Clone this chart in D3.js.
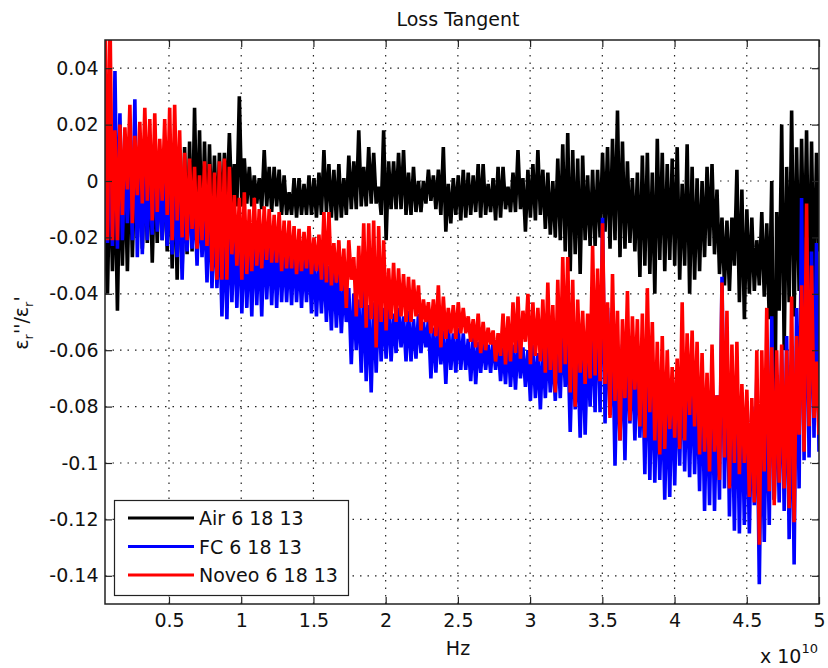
<!DOCTYPE html>
<html>
<head>
<meta charset="utf-8">
<script src="https://cdn.jsdelivr.net/npm/d3@7"></script>
<style>
  body { margin: 0; background: #fff; }
  text { font-family: "DejaVu Sans", sans-serif; fill: #111; }
</style>
</head>
<body>
<div id="chart"></div>
<script>
// sweep: evenly spaced frequency points, each series alternates a high / low reading
const fStart = 0.057e10, fEnd = 5e10;

const air = [
  -0.010,-0.040, 0.008,-0.032, 0.005,-0.046, 0.008,-0.030, 0.006,-0.032, 0.010,-0.027, 0.004,-0.020, 0.009,-0.024, 0.006,-0.022, 0.008,-0.029,
  0.005,-0.022, 0.010,-0.021, 0.007,-0.025, 0.009,-0.031, 0.006,-0.035, 0.011,-0.031, 0.012,-0.026, 0.014,-0.025, 0.026,-0.021, 0.018,-0.024,
  0.014,-0.023, 0.013,-0.019, 0.009,-0.020, 0.010,-0.016, 0.010,-0.009, 0.017,-0.010, 0.006,-0.009, 0.030,-0.009, 0.008,-0.008, 0.005,-0.009,
  0.002,-0.008, 0.001,-0.010, 0.011,-0.009, 0.005,-0.011, 0.005,-0.009, 0.004,-0.012, 0.002,-0.012, -0.004,-0.012, 0.001,-0.013, 0.001,-0.012,
  -0.001,-0.012, 0.002,-0.012, 0.001,-0.013, 0.003,-0.012, 0.011,-0.011, 0.006,-0.013, 0.004,-0.014, 0.006,-0.013, 0.001,-0.012, 0.009,-0.010,
  0.007,-0.010, 0.018,-0.009, 0.005,-0.009, 0.012,-0.008, 0.010,-0.008, -0.002,-0.012, 0.018,-0.021, 0.007,-0.010, 0.007,-0.010, 0.010,-0.010,
  0.011,-0.012, 0.003,-0.012, 0.005,-0.011, 0.000,-0.011, 0.000,-0.008, 0.004,-0.007, 0.002,-0.010, 0.004,-0.012, 0.012,-0.018, -0.001,-0.015,
  0.001,-0.012, 0.002,-0.014, 0.004,-0.013, 0.003,-0.012, 0.002,-0.011, 0.006,-0.013, 0.006,-0.012, -0.001,-0.011, 0.001,-0.014, 0.005,-0.013,
  0.005,-0.010, -0.002,-0.011, 0.003,-0.011, 0.011,-0.010, 0.001,-0.018, 0.004,-0.013, 0.006,-0.014, 0.011,-0.012, 0.004,-0.017, 0.003,-0.019,
  0.000,-0.020, 0.008,-0.021, 0.013,-0.025, 0.017,-0.032, 0.011,-0.026, 0.008,-0.033, 0.009,-0.021, 0.002,-0.023, 0.004,-0.023, 0.004,-0.020,
  0.010,-0.018, 0.012,-0.024, 0.015,-0.021, 0.025,-0.027, 0.014,-0.024, 0.007,-0.022, 0.001,-0.025, 0.003,-0.034, 0.009,-0.030, 0.010,-0.033,
  0.003,-0.040, 0.015,-0.028, 0.010,-0.032, 0.006,-0.028, 0.008,-0.030, 0.012,-0.035, -0.001,-0.030, 0.013,-0.040, 0.005,-0.035, 0.001,-0.032,
  0.000,-0.027, 0.005,-0.023, 0.006,-0.026, -0.003,-0.033, -0.013,-0.037, -0.014,-0.039, -0.013,-0.030, 0.004,-0.043, -0.003,-0.049, -0.010,-0.040,
  -0.013,-0.039, -0.021,-0.037, -0.011,-0.041, -0.015,-0.049, 0.000,-0.113, -0.011,-0.046, 0.020,-0.060, 0.005,-0.043, 0.025,-0.048, 0.012,-0.039,
  0.015,-0.036, 0.018,-0.046, 0.014,-0.041, 0.010,-0.025
];

const fc = [
  0.022,-0.022, 0.010,-0.023, 0.039,-0.024, 0.024,-0.021, 0.008,-0.015, 0.012,-0.021, 0.029,-0.027, 0.010,-0.026, 0.007,-0.021, 0.004,-0.019,
  0.008,-0.018, 0.001,-0.021, 0.005,-0.023, 0.002,-0.026, -0.001,-0.027, 0.003,-0.035, -0.003,-0.025, -0.001,-0.024, -0.005,-0.030, -0.004,-0.027,
  -0.008,-0.036, -0.006,-0.038, -0.010,-0.038, -0.012,-0.048, -0.015,-0.049, -0.013,-0.043, -0.017,-0.045, -0.014,-0.047, -0.018,-0.045, -0.019,-0.048,
  -0.017,-0.044, -0.020,-0.048, -0.018,-0.042, -0.021,-0.044, -0.022,-0.045, -0.020,-0.043, -0.023,-0.043, -0.024,-0.044, -0.023,-0.043, -0.025,-0.045,
  -0.026,-0.043, -0.024,-0.047, -0.027,-0.048, -0.028,-0.047, -0.027,-0.050, -0.030,-0.053, -0.029,-0.052, -0.032,-0.054, -0.036,-0.050, -0.038,-0.065,
  -0.040,-0.060, -0.042,-0.068, -0.038,-0.071, -0.044,-0.075, -0.043,-0.068, -0.041,-0.064, -0.045,-0.063, -0.044,-0.064, -0.047,-0.061, -0.045,-0.059,
  -0.048,-0.064, -0.046,-0.064, -0.049,-0.063, -0.047,-0.061, -0.050,-0.059, -0.049,-0.070, -0.052,-0.068, -0.050,-0.065, -0.053,-0.072, -0.051,-0.067,
  -0.054,-0.068, -0.052,-0.067, -0.054,-0.067, -0.056,-0.071, -0.055,-0.072, -0.057,-0.068, -0.056,-0.067, -0.058,-0.068, -0.056,-0.067, -0.057,-0.071,
  -0.059,-0.072, -0.055,-0.073, -0.058,-0.074, -0.056,-0.070, -0.059,-0.073, -0.060,-0.078, -0.058,-0.077, -0.061,-0.081, -0.059,-0.077, -0.057,-0.075,
  -0.060,-0.078, -0.056,-0.077, -0.052,-0.073, -0.055,-0.089, -0.058,-0.081, -0.060,-0.091, -0.056,-0.090, -0.058,-0.080, -0.050,-0.082, -0.040,-0.082,
  -0.013,-0.086, -0.045,-0.083, -0.052,-0.101, -0.060,-0.092, -0.058,-0.099, -0.055,-0.086, -0.062,-0.092, -0.060,-0.091, -0.064,-0.104, -0.058,-0.106,
  -0.066,-0.107, -0.070,-0.106, -0.072,-0.113, -0.074,-0.112, -0.070,-0.108, -0.068,-0.101, -0.062,-0.103, -0.070,-0.105, -0.066,-0.104, -0.072,-0.110,
  -0.068,-0.117, -0.074,-0.115, -0.070,-0.117, -0.076,-0.113, -0.034,-0.109, -0.060,-0.119, -0.072,-0.124, -0.068,-0.125, -0.075,-0.122, -0.078,-0.125,
  -0.080,-0.115, -0.070,-0.143, -0.076,-0.128, -0.072,-0.122, -0.048,-0.113, -0.070,-0.114, -0.060,-0.117, -0.055,-0.127, -0.064,-0.136, -0.045,-0.109,
  -0.006,-0.099, -0.020,-0.098, -0.025,-0.091, -0.022,-0.096
];

const noveo = [
  0.060,-0.021, 0.060,-0.021, 0.018,-0.021, 0.020,-0.012, 0.019,-0.003, 0.027,-0.015, 0.016,-0.005, 0.021,-0.008, 0.026,-0.007, 0.022,-0.014,
  0.024,-0.011, 0.015,-0.007, 0.022,-0.012, 0.026,-0.021, 0.027,-0.014, 0.018,-0.020, 0.010,-0.021, 0.008,-0.017, 0.005,-0.024, 0.002,-0.021,
  0.007,-0.023, 0.006,-0.032, 0.003,-0.035, 0.007,-0.035, 0.008,-0.035, 0.005,-0.026, -0.005,-0.030, -0.006,-0.035, -0.004,-0.033, -0.010,-0.032,
  -0.006,-0.030, -0.010,-0.031, -0.009,-0.028, -0.010,-0.029, -0.012,-0.029, -0.011,-0.032, -0.014,-0.031, -0.014,-0.031, -0.016,-0.033, -0.017,-0.032,
  -0.018,-0.031, -0.016,-0.033, -0.020,-0.032, -0.019,-0.035, -0.011,-0.036, -0.011,-0.037, -0.022,-0.036, -0.021,-0.039, -0.024,-0.045, -0.021,-0.035,
  -0.027,-0.048, -0.023,-0.045, -0.015,-0.052, -0.015,-0.049, -0.014,-0.059, -0.016,-0.050, -0.021,-0.053, -0.031,-0.049, -0.029,-0.050, -0.031,-0.048,
  -0.033,-0.050, -0.034,-0.050, -0.035,-0.048, -0.037,-0.053, -0.042,-0.050, -0.043,-0.054, -0.042,-0.055, -0.037,-0.059, -0.041,-0.056, -0.045,-0.054,
  -0.044,-0.056, -0.043,-0.054, -0.045,-0.054, -0.048,-0.057, -0.049,-0.059, -0.047,-0.061, -0.050,-0.060, -0.052,-0.058, -0.053,-0.064, -0.054,-0.062,
  -0.047,-0.065, -0.048,-0.064, -0.043,-0.061, -0.041,-0.063, -0.046,-0.057, -0.040,-0.065, -0.043,-0.062, -0.045,-0.064, -0.042,-0.068, -0.036,-0.067,
  -0.044,-0.075, -0.035,-0.068, -0.027,-0.065, -0.027,-0.075, -0.035,-0.080, -0.042,-0.068, -0.046,-0.072, -0.047,-0.070, -0.023,-0.069, -0.031,-0.071,
  -0.015,-0.072, -0.043,-0.084, -0.033,-0.078, -0.046,-0.092, -0.049,-0.077, -0.039,-0.085, -0.048,-0.074, -0.049,-0.087, -0.047,-0.091, -0.038,-0.082,
  -0.050,-0.092, -0.057,-0.097, -0.055,-0.095, -0.060,-0.088, -0.066,-0.091, -0.063,-0.095, -0.043,-0.092, -0.054,-0.083, -0.053,-0.087, -0.057,-0.097,
  -0.061,-0.096, -0.068,-0.103, -0.058,-0.096, -0.076,-0.106, -0.036,-0.098, -0.046,-0.109, -0.058,-0.100, -0.057,-0.104, -0.072,-0.100, -0.074,-0.112,
  -0.077,-0.114, -0.060,-0.129, -0.060,-0.103, -0.045,-0.110, -0.059,-0.115, -0.060,-0.107, -0.058,-0.109, -0.060,-0.116, -0.041,-0.121, -0.055,-0.090,
  -0.037,-0.096, -0.008,-0.087, -0.030,-0.084, -0.064,-0.090
];

const seriesNames = ["Air 6 18 13", "FC 6 18 13", "Noveo 6 18 13"];
const seriesColors = ["#000000", "#0000ff", "#ff0000"];
const xTicks = [0.5e10, 1e10, 1.5e10, 2e10, 2.5e10, 3e10, 3.5e10, 4e10, 4.5e10, 5e10];
const yTicks = [-0.14, -0.12, -0.1, -0.08, -0.06, -0.04, -0.02, 0, 0.02, 0.04];

const W = 828, H = 668;
const plot = { left: 105, top: 40, right: 819, bottom: 604 };

const freq = air.map((_, i) => fStart + i * (fEnd - fStart) / (air.length - 1));

const svg = d3.select("#chart").append("svg")
  .attr("width", W).attr("height", H);

svg.append("rect").attr("width", W).attr("height", H).attr("fill", "#fff");

const x = d3.scaleLinear().domain([fStart, fEnd]).range([plot.left, plot.right]);
const y = d3.scaleLinear().domain([-0.15, 0.05]).range([plot.bottom, plot.top]);

svg.append("clipPath").attr("id", "clip")
  .append("rect")
  .attr("x", plot.left).attr("y", plot.top)
  .attr("width", plot.right - plot.left).attr("height", plot.bottom - plot.top);

// dotted grid
const grid = svg.append("g").attr("stroke", "#222").attr("stroke-width", 1.2)
  .attr("stroke-dasharray", "1.5,6");
grid.selectAll(".gx").data(xTicks.slice(0, -1)).join("line")
  .attr("x1", d => x(d)).attr("x2", d => x(d))
  .attr("y1", plot.top).attr("y2", plot.bottom);
grid.selectAll(".gy").data(yTicks).join("line")
  .attr("x1", plot.left).attr("x2", plot.right)
  .attr("y1", d => y(d)).attr("y2", d => y(d));

// data
const line = d3.line().x((d, i) => x(freq[i])).y(d => y(d));
const lines = svg.append("g").attr("clip-path", "url(#clip)");
[air, fc, noveo].forEach((s, j) => {
  lines.append("path")
    .attr("d", line(s))
    .attr("fill", "none")
    .attr("stroke", seriesColors[j])
    .attr("stroke-width", 3.6)
    .attr("stroke-linejoin", "bevel");
});

// axes (ticks inward on every side)
const fmtY = d => String(+d.toFixed(2));
const fmtX = d => String(d / 1e10);

const bottomAxis = svg.append("g").attr("transform", `translate(0,${plot.bottom})`)
  .call(d3.axisBottom(x).tickValues(xTicks).tickFormat(fmtX).tickSize(-7).tickPadding(9.5));
const topAxis = svg.append("g").attr("transform", `translate(0,${plot.top})`)
  .call(d3.axisTop(x).tickValues(xTicks).tickFormat("").tickSize(-7));
const leftAxis = svg.append("g").attr("transform", `translate(${plot.left},0)`)
  .call(d3.axisLeft(y).tickValues(yTicks).tickFormat(fmtY).tickSize(-7).tickPadding(6.5));
const rightAxis = svg.append("g").attr("transform", `translate(${plot.right},0)`)
  .call(d3.axisRight(y).tickValues(yTicks).tickFormat("").tickSize(-7));

[bottomAxis, topAxis, leftAxis, rightAxis].forEach(a => {
  a.select(".domain").remove();
  a.selectAll(".tick line").attr("stroke", "#222").attr("stroke-width", 1.2);
  a.selectAll("text").style("font-size", "19px").attr("fill", "#111");
});

svg.append("rect")
  .attr("x", plot.left).attr("y", plot.top)
  .attr("width", plot.right - plot.left).attr("height", plot.bottom - plot.top)
  .attr("fill", "none").attr("stroke", "#222").attr("stroke-width", 1.5);

// labels
svg.append("text").attr("x", 458).attr("y", 26).attr("text-anchor", "middle")
  .style("font-size", "19px").text("Loss Tangent");

svg.append("text").attr("x", 458).attr("y", 655).attr("text-anchor", "middle")
  .style("font-size", "19px").text("Hz");

const mult = svg.append("text").attr("x", 760).attr("y", 663).style("font-size", "19px");
mult.append("tspan").text("x 10");
mult.append("tspan").attr("dy", -10).style("font-size", "13px").text("10");

const yl = svg.append("text")
  .attr("transform", "translate(28,323) rotate(-90)")
  .attr("text-anchor", "middle").style("font-size", "19px");
yl.append("tspan").text("ε");
yl.append("tspan").attr("dy", 5).style("font-size", "13px").text("r");
yl.append("tspan").attr("dy", -5).text("''/ε");
yl.append("tspan").attr("dy", 5).style("font-size", "13px").text("r");
yl.append("tspan").attr("dy", -5).text("'");

// legend
const legend = svg.append("g");
legend.append("rect")
  .attr("x", 114.5).attr("y", 500.5).attr("width", 234).attr("height", 95)
  .attr("fill", "#fff").attr("stroke", "#222").attr("stroke-width", 1.2);
const legY = d3.scalePoint().domain(seriesNames).range([518, 575]);
seriesNames.forEach((name, j) => {
  legend.append("line")
    .attr("x1", 128).attr("x2", 194)
    .attr("y1", legY(name)).attr("y2", legY(name))
    .attr("stroke", seriesColors[j]).attr("stroke-width", 3);
  legend.append("text")
    .attr("x", 199).attr("y", legY(name) + 7)
    .style("font-size", "19px").text(name);
});
</script>
</body>
</html>
